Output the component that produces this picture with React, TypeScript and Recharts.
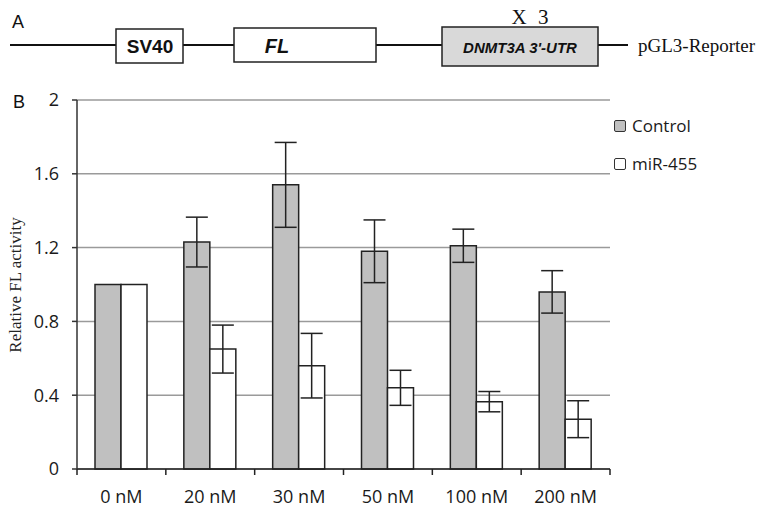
import { BarChart, Bar, XAxis, YAxis, CartesianGrid, ErrorBar } from 'recharts'

const categories = ['0 nM', '20 nM', '30 nM', '50 nM', '100 nM', '200 nM']
const controlValues = [1.0, 1.23, 1.54, 1.18, 1.21, 0.96]
const controlErrors = [0, 0.135, 0.23, 0.17, 0.09, 0.115]
const mirValues = [1.0, 0.65, 0.56, 0.44, 0.365, 0.27]
const mirErrors = [0, 0.13, 0.175, 0.095, 0.055, 0.1]
const yTicks = [0, 0.4, 0.8, 1.2, 1.6, 2]
const seriesNames = ['Control', 'miR-455']

const data = categories.map((name, i) => ({
  name,
  control: controlValues[i],
  controlErr: controlErrors[i],
  mir: mirValues[i],
  mirErr: mirErrors[i],
}))

const W = 764
const H = 509
const M = { top: 100, right: 154, bottom: 0, left: 0 }
const Y_AXIS_W = 77
const BAND = (W - M.left - Y_AXIS_W - M.right) / categories.length

const sansFont = '"Open Sans", sans-serif'
const arialFont = '"Liberation Sans", Arial, sans-serif'
const serifFont = '"Liberation Serif", "Times New Roman", serif'

const XTick = ({ x, y, payload, index }: any) => {
  const last = index === categories.length - 1
  return (
    <g>
      <line x1={x - BAND / 2} y1={y} x2={x - BAND / 2} y2={y + 6} stroke="#222" strokeWidth={1.5} />
      {last && <line x1={x + BAND / 2} y1={y} x2={x + BAND / 2} y2={y + 6} stroke="#222" strokeWidth={1.5} />}
      <text x={x} y={y + 34} textAnchor="middle" fontSize={18} fontFamily={sansFont} fill="#1a1a1a">
        {payload.value}
      </text>
    </g>
  )
}

const LegendBox = () => {
  const fills = ['#c0c0c0', '#ffffff']
  return (
    <div style={{ position: 'absolute', left: 614, top: 116, width: 140 }}>
      {seriesNames.map((label, i) => (
        <div key={label} style={{ position: 'absolute', left: 0, top: i * 38, display: 'flex', alignItems: 'center' }}>
          <span
            style={{
              display: 'inline-block',
              width: 10,
              height: 10,
              background: fills[i],
              border: '1.5px solid #333',
              borderRadius: 2,
              marginRight: 6,
            }}
          />
          <span style={{ fontFamily: sansFont, fontSize: 17, color: '#1a1a1a', lineHeight: '20px' }}>{label}</span>
        </div>
      ))}
    </div>
  )
}

function Diagram() {
  return (
    <svg width={W} height={80} style={{ position: 'absolute', left: 0, top: 0 }}>
      <text x={12} y={28} fontFamily={arialFont} fontSize={18} fill="#111">A</text>
      <line x1={10} y1={45} x2={628} y2={45} stroke="#111" strokeWidth={2} />
      <rect x={116} y={29} width={67} height={34} fill="#fff" stroke="#222" strokeWidth={1.5} />
      <text x={150} y={53} textAnchor="middle" fontFamily={arialFont} fontWeight="bold" fontSize={19} fill="#111">SV40</text>
      <rect x={234} y={28} width={142} height={34} fill="#fff" stroke="#222" strokeWidth={1.5} />
      <text x={277} y={53} textAnchor="middle" fontFamily={arialFont} fontWeight="bold" fontStyle="italic" fontSize={20} fill="#111">FL</text>
      <rect x={442} y={27} width={156} height={39} fill="#d9d9d9" stroke="#222" strokeWidth={1.5} />
      <text x={520} y={53} textAnchor="middle" fontFamily={arialFont} fontWeight="bold" fontStyle="italic" fontSize={15} fill="#111">DNMT3A 3'-UTR</text>
      <text x={530} y={24} textAnchor="middle" fontFamily={serifFont} fontSize={21} wordSpacing={6} fill="#111">X 3</text>
      <text x={638} y={52} fontFamily={serifFont} fontSize={19} fill="#111">pGL3-Reporter</text>
    </svg>
  )
}

export default function App() {
  return (
    <div style={{ position: 'absolute', left: 0, top: 0, width: W, height: H, background: '#fff' }}>
      <Diagram />
      <div style={{ position: 'absolute', left: 0, top: 0 }}>
        <BarChart width={W} height={H} data={data} margin={M} barGap={0} barSize={26}>
          <CartesianGrid horizontal vertical={false} stroke="#9a9a9a" strokeWidth={1.5} />
          <XAxis
            dataKey="name"
            height={40}
            axisLine={{ stroke: '#222', strokeWidth: 1.5 }}
            tickLine={false}
            tickSize={0}
            tickMargin={0}
            interval={0}
            tick={<XTick />}
          />
          <YAxis
            width={Y_AXIS_W}
            domain={[0, 2]}
            ticks={yTicks}
            interval={0}
            axisLine={{ stroke: '#333', strokeWidth: 1.5 }}
            tickLine={{ stroke: '#333', strokeWidth: 1.5 }}
            tickSize={5}
            tickMargin={13}
            tick={{ fontSize: 18, fontFamily: sansFont, fill: '#1a1a1a' }}
          />
          <Bar dataKey="control" name={seriesNames[0]} fill="#c0c0c0" stroke="#222" strokeWidth={1.5} isAnimationActive={false}>
            <ErrorBar dataKey="controlErr" width={11} stroke="#222" strokeWidth={1.5} />
          </Bar>
          <Bar dataKey="mir" name={seriesNames[1]} fill="#ffffff" stroke="#222" strokeWidth={1.5} isAnimationActive={false}>
            <ErrorBar dataKey="mirErr" width={11} stroke="#222" strokeWidth={1.5} />
          </Bar>
        </BarChart>
      </div>
      <svg width={60} height={420} style={{ position: 'absolute', left: 0, top: 80 }}>
        <text x={19} y={28} fontFamily={arialFont} fontSize={18} fill="#111" textAnchor="middle">B</text>
        <text
          x={21}
          y={205}
          transform="rotate(-90 21 205)"
          textAnchor="middle"
          fontFamily={serifFont}
          fontSize={17}
          fill="#222"
        >
          Relative FL activity
        </text>
      </svg>
      <LegendBox />
    </div>
  )
}
